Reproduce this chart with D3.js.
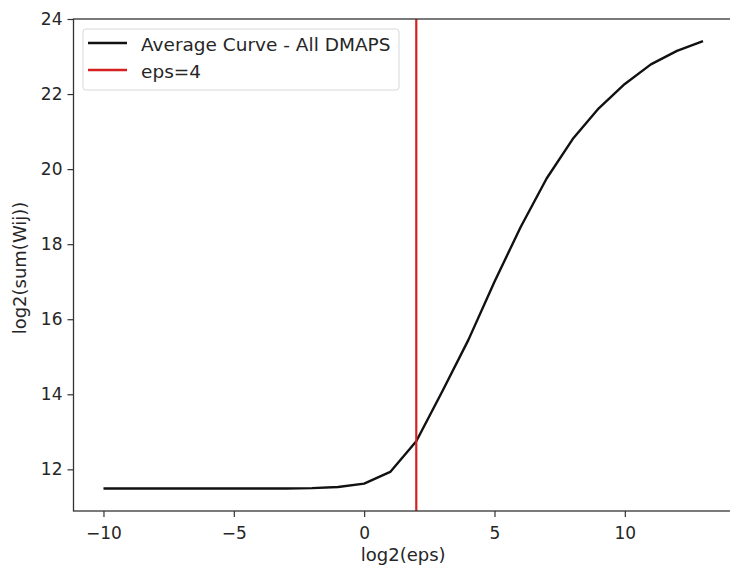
<!DOCTYPE html>
<html>
<head>
<meta charset="utf-8">
<script src="https://cdn.jsdelivr.net/npm/d3@7"></script>
<style>
  body { margin: 0; background: #fff; }
  svg text { font-family: "DejaVu Sans", sans-serif; fill: #262626; }
</style>
</head>
<body>
<div id="chart"></div>
<script>
// data
var logEps = [-10, -9, -8, -7, -6, -5, -4, -3, -2, -1, 0, 1, 2, 3, 4, 5, 6, 7, 8, 9, 10, 11, 12, 13];
var avgCurve = [11.49, 11.49, 11.49, 11.49, 11.49, 11.49, 11.49, 11.49, 11.5, 11.53, 11.62, 11.93,
                12.75, 14.08, 15.45, 17.0, 18.45, 19.75, 20.8, 21.62, 22.27, 22.79, 23.15, 23.41];
var epsLine = 2;
var xTicks = [-10, -5, 0, 5, 10];
var yTicks = [12, 14, 16, 18, 20, 22, 24];
var legendLabels = ["Average Curve - All DMAPS", "eps=4"];
var legendColors = ["#111111", "#d42020"];

var w = 730, h = 569;

var svg = d3.select("#chart").append("svg")
  .attr("width", w)
  .attr("height", h);

var xScale = d3.scaleLinear()
  .domain([-11.15, 14.15])
  .range([73.5, 733]);

var yScale = d3.scaleLinear()
  .domain([10.89, 24.0])
  .range([511, 19]);

var xAxis = d3.axisBottom(xScale)
  .tickValues(xTicks)
  .tickFormat(function(d){ return d < 0 ? "\u2212" + Math.abs(d) : d })
  .tickSize(6)
  .tickSizeOuter(0)
  .tickPadding(10);

var yAxis = d3.axisLeft(yScale)
  .tickValues(yTicks)
  .tickSize(6)
  .tickSizeOuter(0)
  .tickPadding(5);

var gx = svg.append("g")
  .attr("transform", "translate(0," + 511 + ")")
  .call(xAxis);

var gy = svg.append("g")
  .attr("transform", "translate(73.5,0)")
  .call(yAxis);

[gx, gy].forEach(function(g){
  g.select(".domain").remove();
  g.selectAll("line").attr("stroke", "#333").attr("stroke-width", 1.2);
  g.selectAll("text").style("font-size", "17px").style("fill", "#262626");
});

// the curve
var line = d3.line()
  .x(function(d, i){ return xScale(logEps[i]) })
  .y(function(d){ return yScale(d) });

svg.append("path")
  .datum(avgCurve)
  .attr("d", line)
  .attr("fill", "none")
  .attr("stroke", legendColors[0])
  .attr("stroke-width", 2.4)
  .attr("stroke-linejoin", "round");

// vertical eps line
svg.append("line")
  .attr("x1", xScale(epsLine))
  .attr("x2", xScale(epsLine))
  .attr("y1", yScale.range()[0])
  .attr("y2", yScale.range()[1])
  .attr("stroke", legendColors[1])
  .attr("stroke-width", 2.2);

// frame
svg.append("rect")
  .attr("x", 73.5)
  .attr("y", 19)
  .attr("width", 733 - 73.5)
  .attr("height", 511 - 19)
  .attr("fill", "none")
  .attr("stroke", "#333")
  .attr("stroke-width", 1.3);

// axis labels
svg.append("text")
  .attr("x", xScale(1.5))
  .attr("y", 561)
  .attr("text-anchor", "middle")
  .style("font-size", "18px")
  .text("log2(eps)");

svg.append("text")
  .attr("transform", "translate(26,268) rotate(-90)")
  .attr("text-anchor", "middle")
  .style("font-size", "18px")
  .text("log2(sum(Wij))");

// legend
var legend = svg.append("g");

legend.append("rect")
  .attr("x", 83)
  .attr("y", 29)
  .attr("width", 316)
  .attr("height", 61)
  .attr("rx", 3)
  .attr("fill", "#fff")
  .attr("fill-opacity", 0.85)
  .attr("stroke", "#d8d8d8");

legendLabels.forEach(function(lab, i){
  var yy = 43 + i * 27;
  legend.append("line")
    .attr("x1", 88).attr("x2", 127)
    .attr("y1", yy).attr("y2", yy)
    .attr("stroke", legendColors[i])
    .attr("stroke-width", 2.4);
  legend.append("text")
    .attr("x", 141)
    .attr("y", yy + 7.5)
    .style("font-size", "18.5px")
    .text(lab);
});
</script>
</body>
</html>
